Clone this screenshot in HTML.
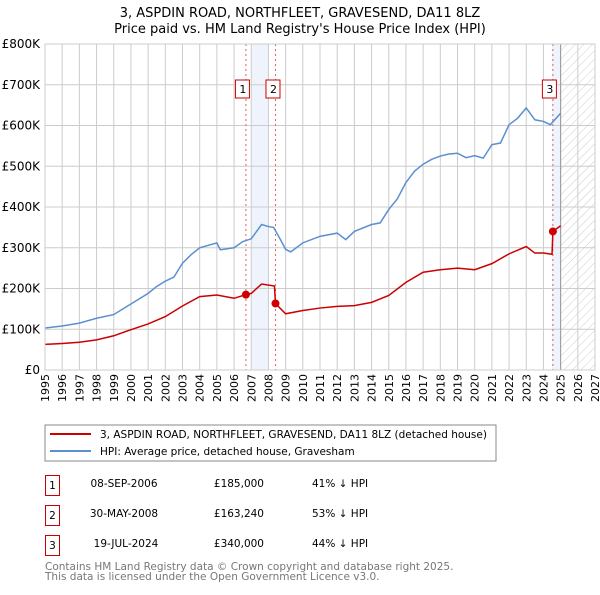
<!DOCTYPE html>
<html><head><meta charset="utf-8"><style>
body{margin:0;background:#fff;}
svg text{font-family:"DejaVu Sans","Liberation Sans",sans-serif;}
</style></head><body>
<svg id="chart" width="600" height="590" xmlns="http://www.w3.org/2000/svg">
<defs>
<pattern id="hatch" width="6" height="6" patternUnits="userSpaceOnUse" patternTransform="rotate(45)">
<line x1="0" y1="0" x2="0" y2="6" stroke="#ccc" stroke-width="1"/></pattern>
</defs>
<text x="300" y="17" text-anchor="middle" font-size="13">3, ASPDIN ROAD, NORTHFLEET, GRAVESEND, DA11 8LZ</text>
<text x="300" y="33" text-anchor="middle" font-size="13">Price paid vs. HM Land Registry's House Price Index (HPI)</text>
<g id="grid"></g>
<g id="marks"></g>
<g id="axes"></g>
<rect x="45" y="425" width="451" height="36" fill="#fff" stroke="#888"/>
<line x1="50" y1="434" x2="91" y2="434" stroke="#cc0000" stroke-width="2"/>
<text x="100" y="438" font-size="10.5">3, ASPDIN ROAD, NORTHFLEET, GRAVESEND, DA11 8LZ (detached house)</text>
<line x1="50" y1="451" x2="91" y2="451" stroke="#5b8fd0" stroke-width="2"/>
<text x="100" y="455" font-size="10.5">HPI: Average price, detached house, Gravesham</text>
<g font-size="10.5">
<rect x="45.5" y="475.5" width="14" height="20" fill="#fff" stroke="#cc0000"/>
<text x="52.5" y="489" text-anchor="middle">1</text>
<text x="124" y="487" text-anchor="middle">08-SEP-2006</text>
<text x="264" y="487" text-anchor="end">£185,000</text>
<text x="312" y="487">41% ↓ HPI</text>
<rect x="45.5" y="505.5" width="14" height="20" fill="#fff" stroke="#cc0000"/>
<text x="52.5" y="519" text-anchor="middle">2</text>
<text x="124" y="517" text-anchor="middle">30-MAY-2008</text>
<text x="264" y="517" text-anchor="end">£163,240</text>
<text x="312" y="517">53% ↓ HPI</text>
<rect x="45.5" y="535.5" width="14" height="20" fill="#fff" stroke="#cc0000"/>
<text x="52.5" y="549" text-anchor="middle">3</text>
<text x="126" y="547" text-anchor="middle">19-JUL-2024</text>
<text x="264" y="547" text-anchor="end">£340,000</text>
<text x="312" y="547">44% ↓ HPI</text>
</g>
<text x="45" y="570" font-size="10.5" fill="#777">Contains HM Land Registry data © Crown copyright and database right 2025.</text>
<text x="45" y="580" font-size="10.5" fill="#777">This data is licensed under the Open Government Licence v3.0.</text>
</svg>
<script>
const yTicks=[0,100,200,300,400,500,600,700,800];
const yTickLabels=["£0","£100K","£200K","£300K","£400K","£500K","£600K","£700K","£800K"];
const xYears=[1995,1996,1997,1998,1999,2000,2001,2002,2003,2004,2005,2006,2007,2008,2009,2010,2011,2012,2013,2014,2015,2016,2017,2018,2019,2020,2021,2022,2023,2024,2025,2026,2027];
const hpiDates=[1995,1996,1997,1998,1999,2000,2001,2001.5,2002,2002.5,2003,2003.5,2004,2005,2005.2,2006,2006.5,2007,2007.6,2008,2008.3,2008.7,2009,2009.3,2010,2011,2012,2012.5,2013,2014,2014.5,2015,2015.5,2016,2016.5,2017,2017.5,2018,2018.5,2019,2019.5,2020,2020.5,2021,2021.5,2022,2022.5,2023,2023.5,2024,2024.4,2025];
const hpiValues=[103,108,115,127,136,162,188,205,218,228,262,283,300,312,295,300,315,322,357,352,350,320,296,290,312,328,336,320,340,357,361,394,420,460,488,505,517,525,530,532,521,526,520,553,557,602,618,643,614,610,602,630];
const priceDates=[1995,1996,1997,1998,1999,2000,2001,2002,2003,2004,2005,2006,2006.69,2007,2007.6,2008.35,2008.41,2009,2010,2011,2012,2013,2014,2015,2016,2017,2018,2019,2020,2021,2022,2023,2023.5,2024,2024.5,2024.55,2025];
const priceValues=[63,65,68,74,84,99,113,131,157,180,184,176,185,188,211,206,163,138,146,152,156,158,166,183,215,240,246,250,246,261,285,303,287,287,284,340,354];
const saleDates=[2006.69,2008.41,2024.55];
const saleValues=[185,163.24,340];
const saleLabels=["1","2","3"];

const X0=45,X1=595,Y0=370,Y1=44;
const xs=y=>X0+(y-1995)*(X1-X0)/32;
const ys=v=>Y0-v*(Y0-Y1)/800;
const NS="http://www.w3.org/2000/svg";
function mk(tag,attrs,parent){const e=document.createElementNS(NS,tag);for(const k in attrs)e.setAttribute(k,attrs[k]);parent.appendChild(e);return e;}
const grid=document.getElementById('grid'),marks=document.getElementById('marks'),axes=document.getElementById('axes');
let s=mk('rect',{x:xs(2007),y:Y1,width:xs(2008)-xs(2007),height:Y0-Y1,fill:'#eef3fc'},grid);


s=mk('rect',{x:xs(2024.5),y:Y1,width:xs(2025)-xs(2024.5),height:Y0-Y1,fill:'#eef3fc'},grid);


s=mk('rect',{x:xs(2025),y:Y1,width:X1-xs(2025),height:Y0-Y1,fill:'url(#hatch)'},grid);


xYears.forEach(yr=>{const l=mk('line',{x1:xs(yr),x2:xs(yr),y1:Y1,y2:Y0,stroke:'#ccc'},grid);


const t=mk('text',{x:0,y:0,'font-size':11,transform:`translate(${xs(yr)+4},${Y0+4}) rotate(-90)`,'text-anchor':'end'},axes);
t.textContent=yr;

});
yTicks.forEach((v,i)=>{const l=mk('line',{x1:X0,x2:X1,y1:ys(v),y2:ys(v),stroke:'#ccc'},grid);


const t=mk('text',{x:X0-5,y:ys(v)+4,'font-size':12,'text-anchor':'end'},axes);
t.textContent=yTickLabels[i];

});
const fl=mk('line',{x1:xs(2025),x2:xs(2025),y1:Y1,y2:Y0,stroke:'#999'},grid);


saleDates.forEach((d,i)=>{const l=mk('line',{x1:xs(d),x2:xs(d),y1:Y1,y2:Y0,stroke:'#e06060','stroke-dasharray':'2,3'},marks);


const off=(i==1?-2:-3);
const r=mk('rect',{x:xs(d)-7.5+off,y:80,width:14,height:18,fill:'#fff',stroke:'#cc0000'},marks);


const t=mk('text',{x:xs(d)+off,y:93,'font-size':11,'text-anchor':'middle'},marks);
t.textContent=saleLabels[i];

});
const hp=mk('polyline',{points:hpiDates.map((d,i)=>xs(d)+','+ys(hpiValues[i])).join(' '),fill:'none',stroke:'#5b8fd0','stroke-width':1.5},marks);


const pp=mk('polyline',{points:priceDates.map((d,i)=>xs(d)+','+ys(priceValues[i])).join(' '),fill:'none',stroke:'#cc0000','stroke-width':1.5},marks);


saleDates.forEach((d,i)=>{const c=mk('circle',{cx:xs(d),cy:ys(saleValues[i]),r:4,fill:'#cc0000'},marks);

});
const ax=mk('rect',{x:X0,y:Y1,width:X1-X0,height:Y0-Y1,fill:'none',stroke:'#ccc'},axes);


</script>
</body></html>
